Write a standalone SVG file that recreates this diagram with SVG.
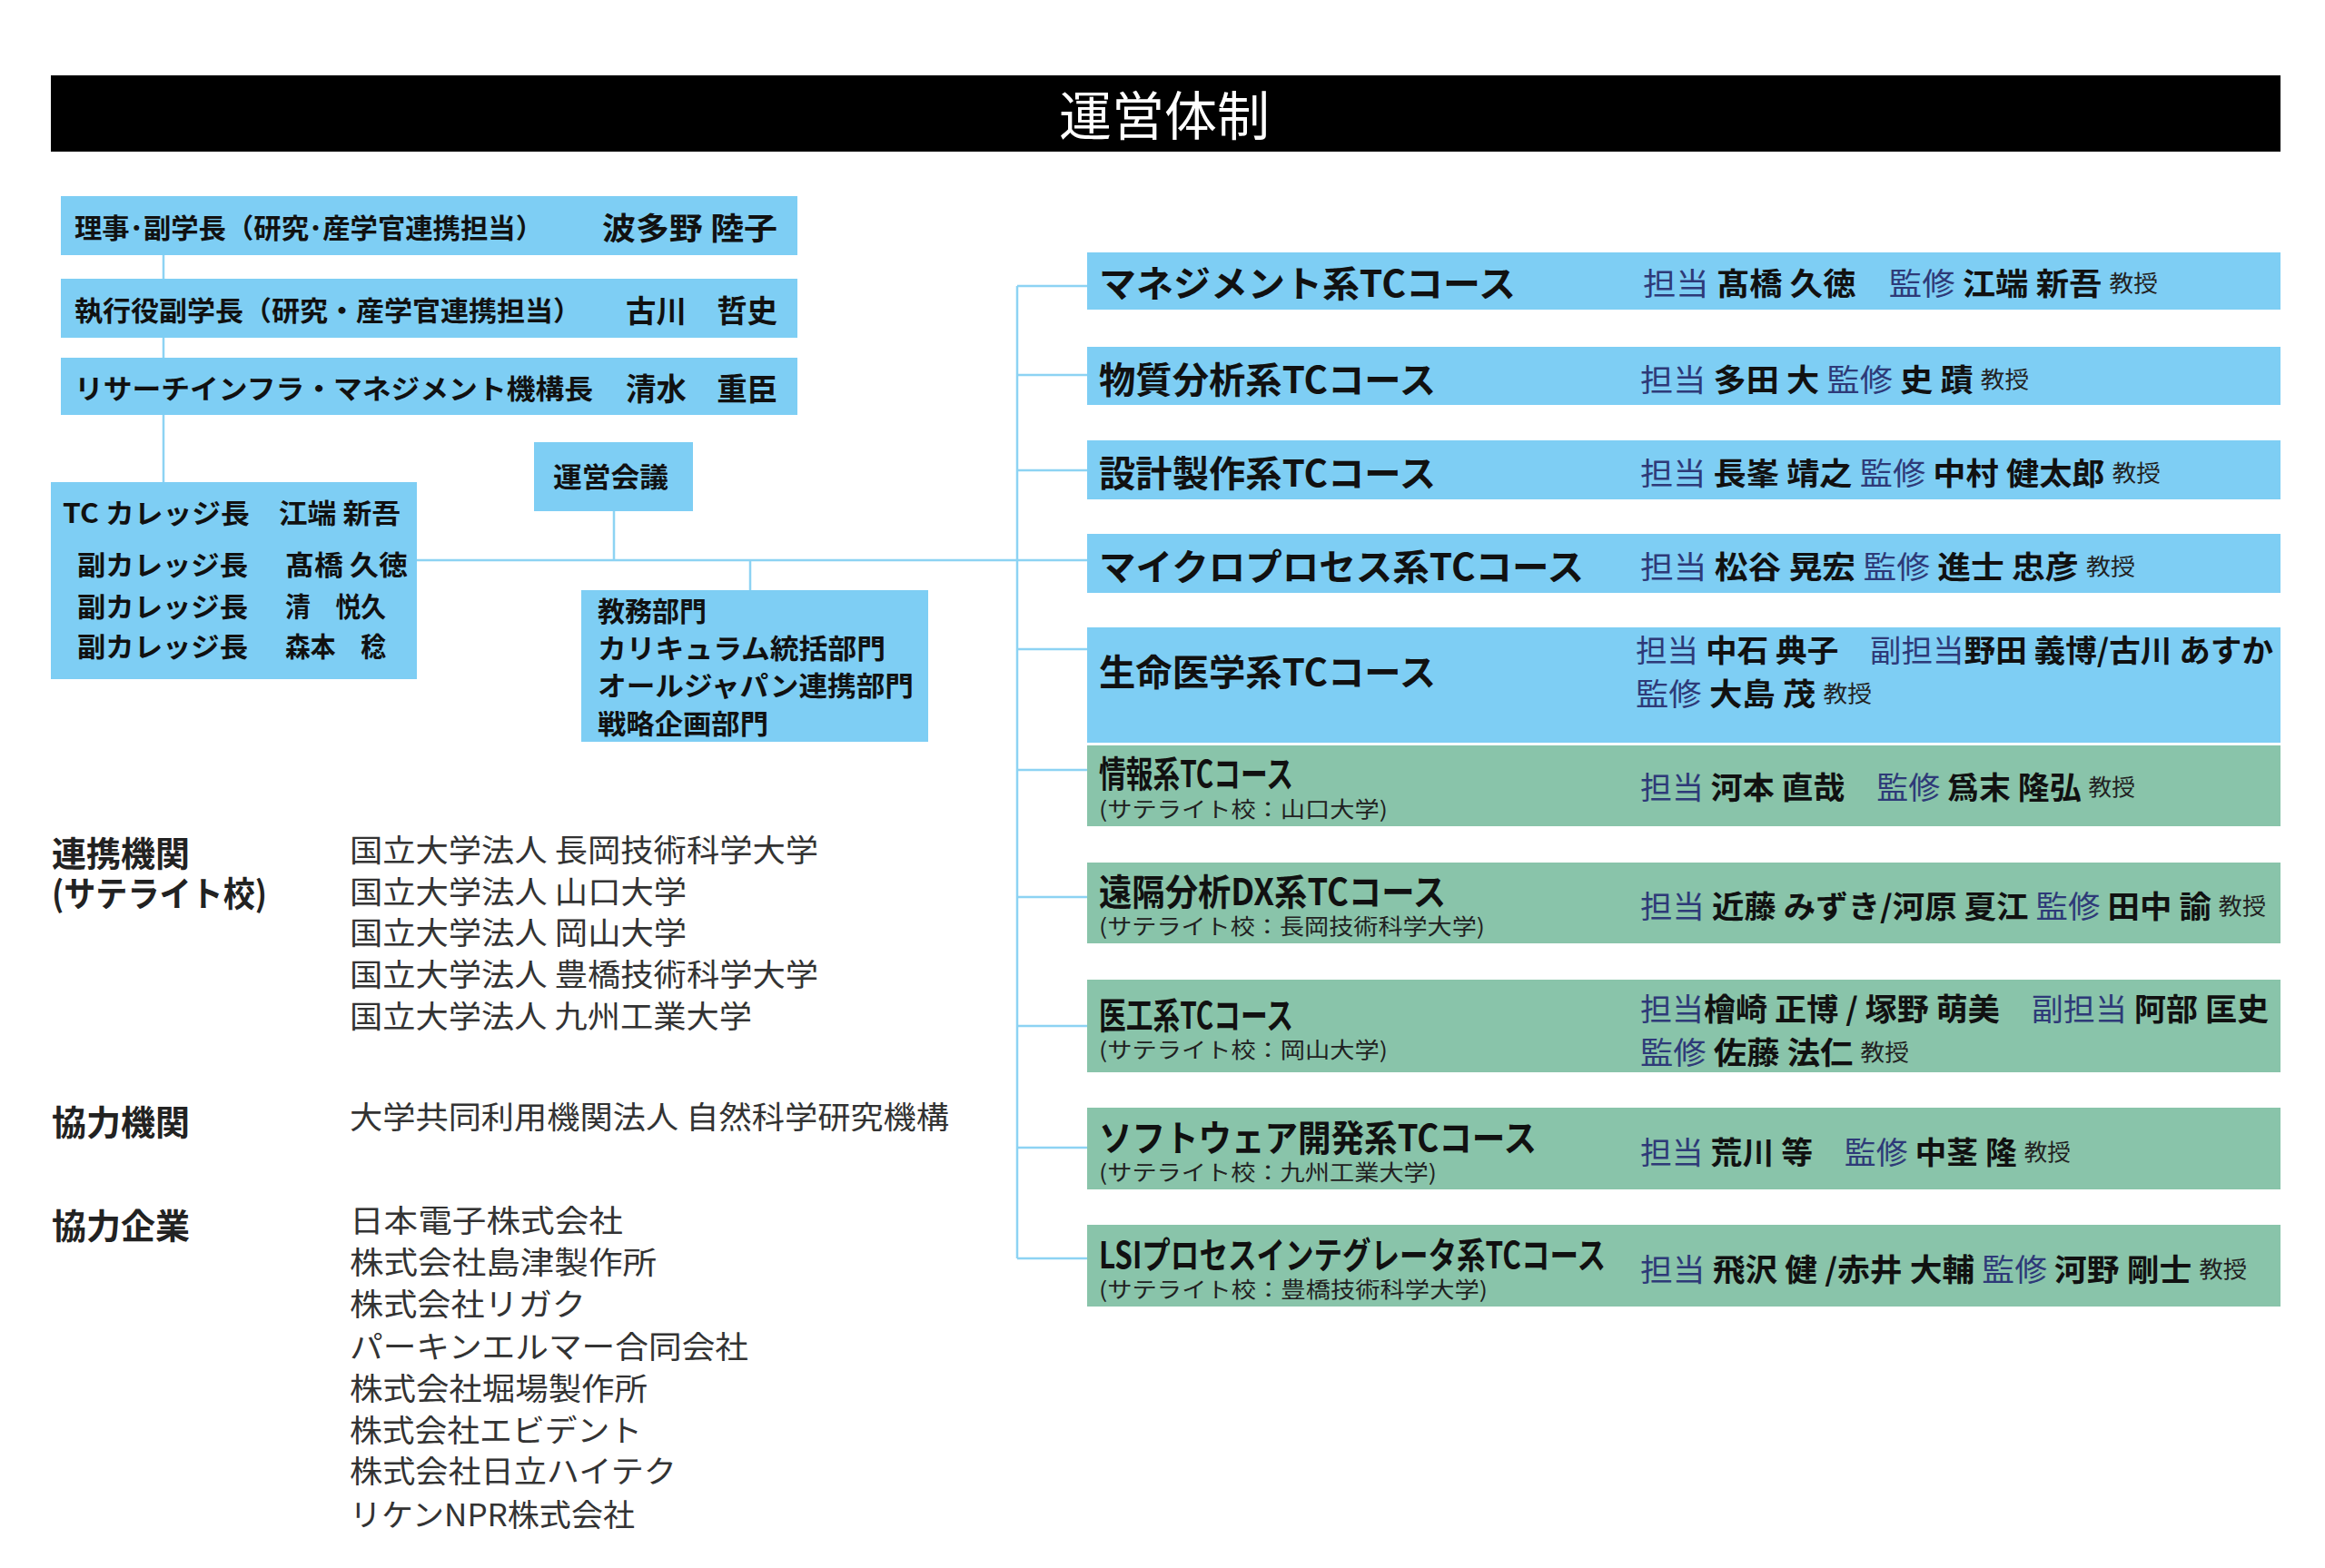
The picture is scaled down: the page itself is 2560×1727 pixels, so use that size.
<svg xmlns="http://www.w3.org/2000/svg" width="2560" height="1727" viewBox="0 0 2560 1727">
<style>
text{font-family:"Noto Sans CJK JP","Noto Sans",sans-serif;dominant-baseline:central}
.b{fill:#7ecef4}.g{fill:#89c4aa}
.ln{stroke:#8dd3f3;stroke-width:2.5;fill:none}
.lt{font-size:30px;font-weight:700;fill:#111}
.nm{font-size:34px;font-weight:700;fill:#111}
.ct{font-size:40px;font-weight:700;fill:#111}
.sub{font-size:24px;fill:#222}
.rt{font-size:34px;font-weight:700;fill:#111}
.lb{font-weight:400;fill:#2e3a78}
.pr{font-size:25px;font-weight:400;fill:#222}
.hd{font-size:38px;font-weight:700;fill:#222}
.li{font-size:34px;fill:#333}
</style>
<rect width="2560" height="1727" fill="#fff"/>
<g id="title"><rect x="56" y="83" width="2455" height="84" fill="#000"/><text x="1282" y="124" font-size="58" fill="#fff" text-anchor="middle">運営体制</text></g>
<g id="connectors">
<path class="ln" d="M180 281V531M459 617H1120M676 563V617M826 617V650M1120 315V1386"/>
<path class="ln" d="M1120 315H1197M1120 413H1197M1120 518H1197M1120 617H1197M1120 715H1197M1120 848H1197M1120 988H1197M1120 1130H1197M1120 1264H1197M1120 1386H1197"/>
</g>
<g id="n1"><rect class="b" x="67" y="216" width="811" height="65"/><text class="lt" x="82" y="249" textLength="516" lengthAdjust="spacingAndGlyphs">理事･副学長（研究･産学官連携担当）</text><text class="nm" x="663" y="249" textLength="193" lengthAdjust="spacingAndGlyphs">波多野 陸子</text></g>
<g id="n2"><rect class="b" x="67" y="307" width="811" height="65"/><text class="lt" x="82" y="340" textLength="558" lengthAdjust="spacingAndGlyphs">執行役副学長（研究・産学官連携担当）</text><text class="nm" x="689" y="340" textLength="167" lengthAdjust="spacingAndGlyphs">古川　哲史</text></g>
<g id="n3"><rect class="b" x="67" y="394" width="811" height="63"/><text class="lt" x="82" y="426" textLength="571" lengthAdjust="spacingAndGlyphs">リサーチインフラ・マネジメント機構長</text><text class="nm" x="689" y="426" textLength="167" lengthAdjust="spacingAndGlyphs">清水　重臣</text></g>
<g id="tc"><rect class="b" x="56" y="531" width="403" height="217"/>
<text class="lt" x="69" y="563" textLength="372" lengthAdjust="spacingAndGlyphs">TC カレッジ長　江端 新吾</text>
<text class="lt" x="85" y="620" textLength="188" lengthAdjust="spacingAndGlyphs">副カレッジ長</text><text class="lt" x="314" y="620" textLength="135" lengthAdjust="spacingAndGlyphs">髙橋 久徳</text>
<text class="lt" x="85" y="666" textLength="188" lengthAdjust="spacingAndGlyphs">副カレッジ長</text><text class="lt" x="314" y="666" textLength="111" lengthAdjust="spacingAndGlyphs">清　悦久</text>
<text class="lt" x="85" y="710" textLength="188" lengthAdjust="spacingAndGlyphs">副カレッジ長</text><text class="lt" x="314" y="710" textLength="111" lengthAdjust="spacingAndGlyphs">森本　稔</text></g>
<g id="unei"><rect class="b" x="588" y="487" width="175" height="76"/><text class="lt" x="609" y="523" textLength="127" lengthAdjust="spacingAndGlyphs">運営会議</text></g>
<g id="kyomu"><rect class="b" x="640" y="650" width="382" height="167"/>
<text class="lt" x="658" y="671">教務部門</text>
<text class="lt" x="658" y="712" textLength="317" lengthAdjust="spacingAndGlyphs">カリキュラム統括部門</text>
<text class="lt" x="658" y="753" textLength="348" lengthAdjust="spacingAndGlyphs">オールジャパン連携部門</text>
<text class="lt" x="658" y="795" textLength="188" lengthAdjust="spacingAndGlyphs">戦略企画部門</text></g>

<g id="c1"><rect class="b" x="1197" y="278" width="1314" height="63"/><text class="ct" x="1210" y="310" textLength="459" lengthAdjust="spacingAndGlyphs">マネジメント系TCコース</text><text class="rt" x="1809" y="310" textLength="567" lengthAdjust="spacingAndGlyphs"><tspan class="lb">担当</tspan> 髙橋 久徳　<tspan class="lb">監修</tspan> 江端 新吾 <tspan class="pr">教授</tspan></text></g>
<g id="c2"><rect class="b" x="1197" y="382" width="1314" height="64"/><text class="ct" x="1210" y="416" textLength="371" lengthAdjust="spacingAndGlyphs">物質分析系TCコース</text><text class="rt" x="1806" y="416" textLength="428" lengthAdjust="spacingAndGlyphs"><tspan class="lb">担当</tspan> 多田 大  <tspan class="lb">監修</tspan> 史 蹟 <tspan class="pr">教授</tspan></text></g>
<g id="c3"><rect class="b" x="1197" y="485" width="1314" height="65"/><text class="ct" x="1210" y="519" textLength="371" lengthAdjust="spacingAndGlyphs">設計製作系TCコース</text><text class="rt" x="1806" y="519" textLength="573" lengthAdjust="spacingAndGlyphs"><tspan class="lb">担当</tspan> 長峯 靖之  <tspan class="lb">監修</tspan> 中村 健太郎 <tspan class="pr">教授</tspan></text></g>
<g id="c4"><rect class="b" x="1197" y="588" width="1314" height="65"/><text class="ct" x="1210" y="622" textLength="534" lengthAdjust="spacingAndGlyphs">マイクロプロセス系TCコース</text><text class="rt" x="1806" y="622" textLength="545" lengthAdjust="spacingAndGlyphs"><tspan class="lb">担当</tspan> 松谷 晃宏  <tspan class="lb">監修</tspan> 進士 忠彦 <tspan class="pr">教授</tspan></text></g>
<g id="c5"><rect class="b" x="1197" y="691" width="1314" height="127"/><text class="ct" x="1210" y="738" textLength="371" lengthAdjust="spacingAndGlyphs">生命医学系TCコース</text><text class="rt" x="1801" y="714" textLength="702" lengthAdjust="spacingAndGlyphs"><tspan class="lb">担当</tspan> 中石 典子　<tspan class="lb">副担当</tspan>野田 義博/古川 あすか</text><text class="rt" x="1801" y="762" textLength="260" lengthAdjust="spacingAndGlyphs"><tspan class="lb">監修</tspan> 大島 茂 <tspan class="pr">教授</tspan></text></g>

<g id="c6"><rect class="g" x="1197" y="821" width="1314" height="89"/><text class="ct" x="1210" y="850" textLength="214" lengthAdjust="spacingAndGlyphs">情報系TCコース</text><text class="sub" x="1210" y="889" textLength="318" lengthAdjust="spacingAndGlyphs">(サテライト校：山口大学)</text><text class="rt" x="1806" y="865" textLength="545" lengthAdjust="spacingAndGlyphs"><tspan class="lb">担当</tspan> 河本 直哉　<tspan class="lb">監修</tspan> 爲末 隆弘 <tspan class="pr">教授</tspan></text></g>
<g id="c7"><rect class="g" x="1197" y="950" width="1314" height="89"/><text class="ct" x="1210" y="980" textLength="382" lengthAdjust="spacingAndGlyphs">遠隔分析DX系TCコース</text><text class="sub" x="1210" y="1018" textLength="425" lengthAdjust="spacingAndGlyphs">(サテライト校：長岡技術科学大学)</text><text class="rt" x="1806" y="996" textLength="689" lengthAdjust="spacingAndGlyphs"><tspan class="lb">担当</tspan> 近藤 みずき/河原 夏江 <tspan class="lb">監修</tspan> 田中 諭 <tspan class="pr">教授</tspan></text></g>
<g id="c8"><rect class="g" x="1197" y="1079" width="1314" height="102"/><text class="ct" x="1210" y="1116" textLength="214" lengthAdjust="spacingAndGlyphs">医工系TCコース</text><text class="sub" x="1210" y="1154" textLength="318" lengthAdjust="spacingAndGlyphs">(サテライト校：岡山大学)</text><text class="rt" x="1806" y="1109" textLength="692" lengthAdjust="spacingAndGlyphs"><tspan class="lb">担当</tspan>檜崎 正博 / 塚野 萌美　<tspan class="lb">副担当</tspan> 阿部 匡史</text><text class="rt" x="1806" y="1157" textLength="296" lengthAdjust="spacingAndGlyphs"><tspan class="lb">監修</tspan> 佐藤 法仁 <tspan class="pr">教授</tspan></text></g>
<g id="c9"><rect class="g" x="1197" y="1220" width="1314" height="90"/><text class="ct" x="1210" y="1251" textLength="482" lengthAdjust="spacingAndGlyphs">ソフトウェア開発系TCコース</text><text class="sub" x="1210" y="1289" textLength="372" lengthAdjust="spacingAndGlyphs">(サテライト校：九州工業大学)</text><text class="rt" x="1806" y="1267" textLength="474" lengthAdjust="spacingAndGlyphs"><tspan class="lb">担当</tspan> 荒川 等　<tspan class="lb">監修</tspan> 中茎 隆 <tspan class="pr">教授</tspan></text></g>
<g id="c10"><rect class="g" x="1197" y="1349" width="1314" height="90"/><text class="ct" x="1210" y="1380" textLength="558" lengthAdjust="spacingAndGlyphs">LSIプロセスインテグレータ系TCコース</text><text class="sub" x="1210" y="1418" textLength="428" lengthAdjust="spacingAndGlyphs">(サテライト校：豊橋技術科学大学)</text><text class="rt" x="1806" y="1396" textLength="668" lengthAdjust="spacingAndGlyphs"><tspan class="lb">担当</tspan> 飛沢 健 /赤井 大輔 <tspan class="lb">監修</tspan> 河野 剛士 <tspan class="pr">教授</tspan></text></g>

<g id="renkei"><text class="hd" x="57" y="937">連携機関</text><text class="hd" x="57" y="981" textLength="237" lengthAdjust="spacingAndGlyphs">(サテライト校)</text>
<text class="li" x="385" y="934" textLength="516" lengthAdjust="spacingAndGlyphs">国立大学法人 長岡技術科学大学</text>
<text class="li" x="385" y="980" textLength="371" lengthAdjust="spacingAndGlyphs">国立大学法人 山口大学</text>
<text class="li" x="385" y="1025" textLength="371" lengthAdjust="spacingAndGlyphs">国立大学法人 岡山大学</text>
<text class="li" x="385" y="1071" textLength="516" lengthAdjust="spacingAndGlyphs">国立大学法人 豊橋技術科学大学</text>
<text class="li" x="385" y="1117" textLength="443" lengthAdjust="spacingAndGlyphs">国立大学法人 九州工業大学</text></g>
<g id="kyoryoku"><text class="hd" x="57" y="1233">協力機関</text><text class="li" x="385" y="1228" textLength="660" lengthAdjust="spacingAndGlyphs">大学共同利用機関法人 自然科学研究機構</text></g>
<g id="kigyo"><text class="hd" x="57" y="1347">協力企業</text>
<text class="li" x="385" y="1342" textLength="301" lengthAdjust="spacingAndGlyphs">日本電子株式会社</text>
<text class="li" x="385" y="1388" textLength="338" lengthAdjust="spacingAndGlyphs">株式会社島津製作所</text>
<text class="li" x="385" y="1434" textLength="260" lengthAdjust="spacingAndGlyphs">株式会社リガク</text>
<text class="li" x="385" y="1481" textLength="439" lengthAdjust="spacingAndGlyphs">パーキンエルマー合同会社</text>
<text class="li" x="385" y="1527" textLength="328" lengthAdjust="spacingAndGlyphs">株式会社堀場製作所</text>
<text class="li" x="385" y="1573" textLength="322" lengthAdjust="spacingAndGlyphs">株式会社エビデント</text>
<text class="li" x="385" y="1618" textLength="360" lengthAdjust="spacingAndGlyphs">株式会社日立ハイテク</text>
<text class="li" x="385" y="1666" textLength="314" lengthAdjust="spacingAndGlyphs">リケンNPR株式会社</text></g>
</svg>
